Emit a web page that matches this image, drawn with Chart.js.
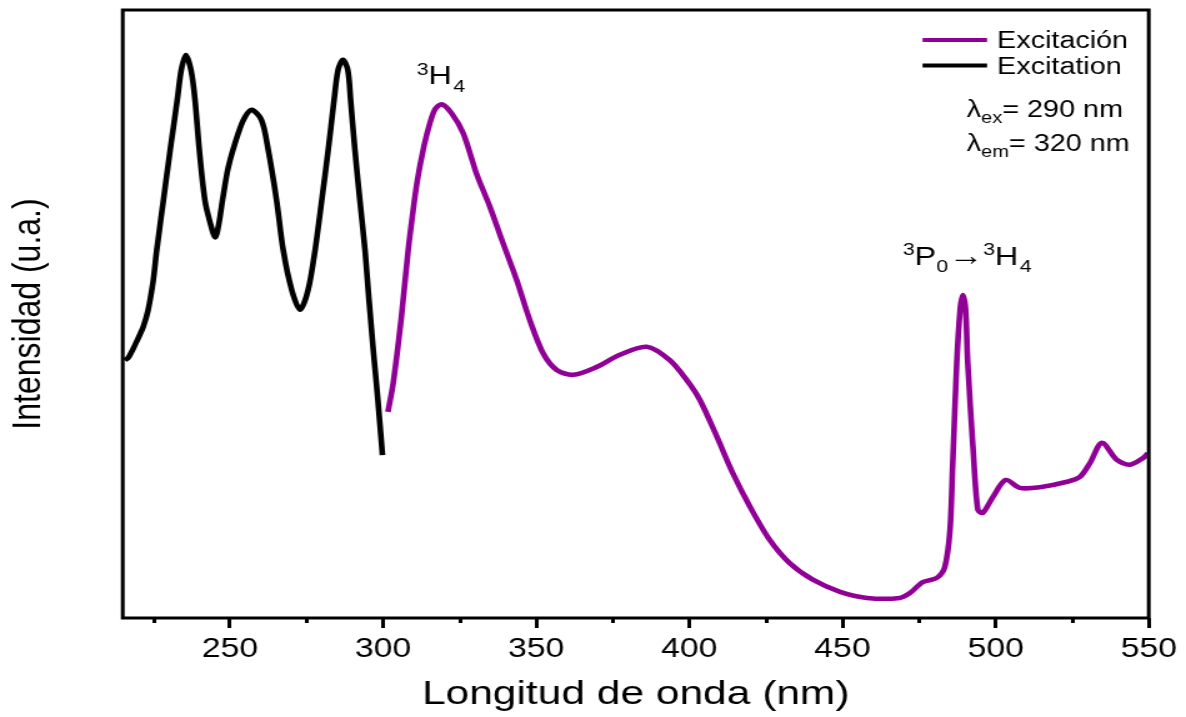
<!DOCTYPE html>
<html><head><meta charset="utf-8">
<script src="https://cdn.jsdelivr.net/npm/chart.js@4.4.0/dist/chart.umd.min.js"></script>
<style>
html,body{margin:0;padding:0;background:#fff;overflow:hidden;width:1186px;height:717px;}
#wrap{position:absolute;left:0;top:0;width:949px;height:717px;transform:scaleX(1.24974);transform-origin:0 0;}
canvas{display:block;}
</style></head><body>
<div id="wrap"><canvas id="c" width="949" height="717"></canvas></div>
<script>
// ---- data ----
const blackNm = [215.7,216.8,219.0,221.7,223.3,224.9,226.1,228.3,230.5,232.8,234.1,235.6,237.3,238.6,240.0,241.8,243.6,245.2,246.4,247.6,249.5,252.7,254.9,257.1,260.3,262.5,265.2,267.4,270.2,272.9,275.5,277.8,280.0,282.1,284.0,285.3,286.9,288.5,289.4,290.8,292.4,294.1,295.4,296.8,298.3,299.8];
const blackI  = [42.4,42.8,44.9,47.9,50.7,55.3,60.5,68.8,77.0,85.2,90.1,92.6,90.1,85.2,77.0,68.8,64.9,62.6,64.9,68.8,74.2,79.7,82.4,83.6,81.9,77.0,68.8,60.5,53.9,50.7,53.9,60.5,68.8,77.0,85.2,90.1,91.8,90.1,85.2,77.0,68.8,60.5,52.3,44.1,35.9,26.8];
const purpleNm = [301.6,303.3,306.0,308.2,309.8,311.2,313.3,315.3,316.9,319.1,322.4,326.2,330.5,334.9,339.2,343.6,347.9,352.3,356.7,362.1,369.8,377.3,386.1,393.6,399.2,403.4,409.0,414.2,419.8,426.3,432.8,440.3,449.2,458.0,468.7,472.0,476.2,480.8,483.4,485.1,486.0,487.3,488.4,489.3,490.2,490.9,492.6,494.2,495.8,499.1,503.3,507.9,514.4,523.3,527.5,530.8,534.7,539.6,543.8,548.1,549.7];
const purpleI  = [33.9,38.6,49.6,60.5,67.0,72.0,77.5,81.4,83.6,84.5,83.0,79.7,73.1,67.6,61.6,55.6,49.0,43.5,40.8,40.0,41.3,43.3,44.6,42.4,39.1,35.9,29.8,23.8,18.3,12.8,9.0,6.3,4.3,3.3,3.3,4.1,5.9,6.6,8.4,14.5,25.5,41.9,50.7,53.1,50.7,41.9,28.1,17.8,17.3,19.9,22.7,21.4,21.5,22.4,23.2,25.5,28.8,26.0,25.2,26.3,27.1];
const seriesLabels = ['Excitación', 'Excitation'];
const xMajorTicks = [250, 300, 350, 400, 450, 500, 550];
const xMinorTicks = [225, 275, 325, 375, 425, 475, 525];
const xTitle = 'Longitud de onda (nm)';
const yTitle = 'Intensidad (u.a.)';

const FONT = '"Liberation Sans", Arial, Helvetica, sans-serif';
const PURPLE = '#910096';

function pts(xs, ys) { return xs.map((x, i) => ({x: x, y: ys[i]})); }

function rich(ctx, x, y, segs) {
  ctx.textAlign = 'left';
  ctx.textBaseline = 'alphabetic';
  ctx.fillStyle = '#000';
  for (const s of segs) {
    ctx.font = s.size + 'px ' + FONT;
    ctx.fillText(s.t, x, y + (s.dy || 0));
    x += ctx.measureText(s.t).width + (s.gap || 0);
  }
}

const decor = {
  id: 'decor',
  afterDraw(chart) {
    const ctx = chart.ctx;
    const a = chart.chartArea;
    const xs = chart.scales.x;
    ctx.save();
    // minor ticks
    ctx.strokeStyle = '#000';
    ctx.lineWidth = 3;
    ctx.beginPath();
    for (const v of xMinorTicks) {
      const px = Math.round(xs.getPixelForValue(v)) + 0.5;
      ctx.moveTo(px, a.bottom);
      ctx.lineTo(px, a.bottom + 5);
    }
    ctx.stroke();
    // frame
    ctx.lineWidth = 3;
    ctx.strokeRect(a.left, a.top, a.right - a.left, a.bottom - a.top);

    // legend
    const ds = chart.data.datasets;
    const ly = [40, 65.5];
    ds.forEach((d, i) => {
      ctx.strokeStyle = d.borderColor;
      ctx.lineWidth = 4;
      ctx.beginPath();
      ctx.moveTo(738.2, ly[i]);
      ctx.lineTo(789.8, ly[i]);
      ctx.stroke();
      rich(ctx, 797.8, ly[i] + 8, [{t: d.label, size: 23}]);
    });

    // lambda texts
    rich(ctx, 773.6, 117, [{t: 'λ', size: 23}, {t: 'ex', size: 16, dy: 6}, {t: '= 290 nm', size: 23}]);
    rich(ctx, 773.6, 150.5, [{t: 'λ', size: 23}, {t: 'em', size: 16, dy: 6}, {t: '= 320 nm', size: 23}]);

    // peak labels
    rich(ctx, 333.4, 84, [{t: '3', size: 17, dy: -9}, {t: 'H', size: 26, gap: 1}, {t: '4', size: 17, dy: 8}]);
    rich(ctx, 722.4, 265, [{t: '3', size: 17, dy: -10}, {t: 'P', size: 26}, {t: '0', size: 17, dy: 7},
      {t: '→', size: 28}, {t: '3', size: 17, dy: -10}, {t: 'H', size: 26, gap: 1}, {t: '4', size: 17, dy: 7}]);
    ctx.restore();
  }
};

new Chart(document.getElementById('c'), {
  type: 'line',
  data: {
    datasets: [
      {label: seriesLabels[0], data: pts(purpleNm, purpleI), borderColor: PURPLE, borderWidth: 4.6,
       pointRadius: 0, tension: 0.3, fill: false},
      {label: seriesLabels[1], data: pts(blackNm, blackI), borderColor: '#000', borderWidth: 4.6,
       pointRadius: 0, tension: 0.3, fill: false}
    ]
  },
  options: {
    responsive: false,
    animation: false,
    devicePixelRatio: 1,
    layout: {padding: {left: 0, right: 29.8, top: 10, bottom: 0}},
    plugins: {legend: {display: false}, tooltip: {enabled: false}},
    scales: {
      x: {
        type: 'linear', min: 215, max: 550,
        afterBuildTicks(scale) { scale.ticks = xMajorTicks.map(v => ({value: v})); },
        afterFit(scale) { scale.height = 99; },
        border: {display: false},
        grid: {display: true, drawOnChartArea: false, drawTicks: true, tickLength: 10, tickWidth: 3, tickColor: '#000'},
        ticks: {autoSkip: false, maxRotation: 0, color: '#000', padding: 5,
                font: {family: FONT, size: 27}, callback: v => String(v)},
        title: {display: true, text: xTitle, color: '#000', font: {family: FONT, size: 34}, padding: {top: 0, bottom: 2}}
      },
      y: {
        min: 0, max: 100,
        afterFit(scale) { scale.width = 98.2; },
        border: {display: false},
        grid: {display: false},
        ticks: {display: false},
        title: {display: true, text: yTitle, color: '#000', font: {family: FONT, size: 32}, padding: {top: 4, bottom: 0}}
      }
    }
  },
  plugins: [decor]
});
</script>
</body></html>
